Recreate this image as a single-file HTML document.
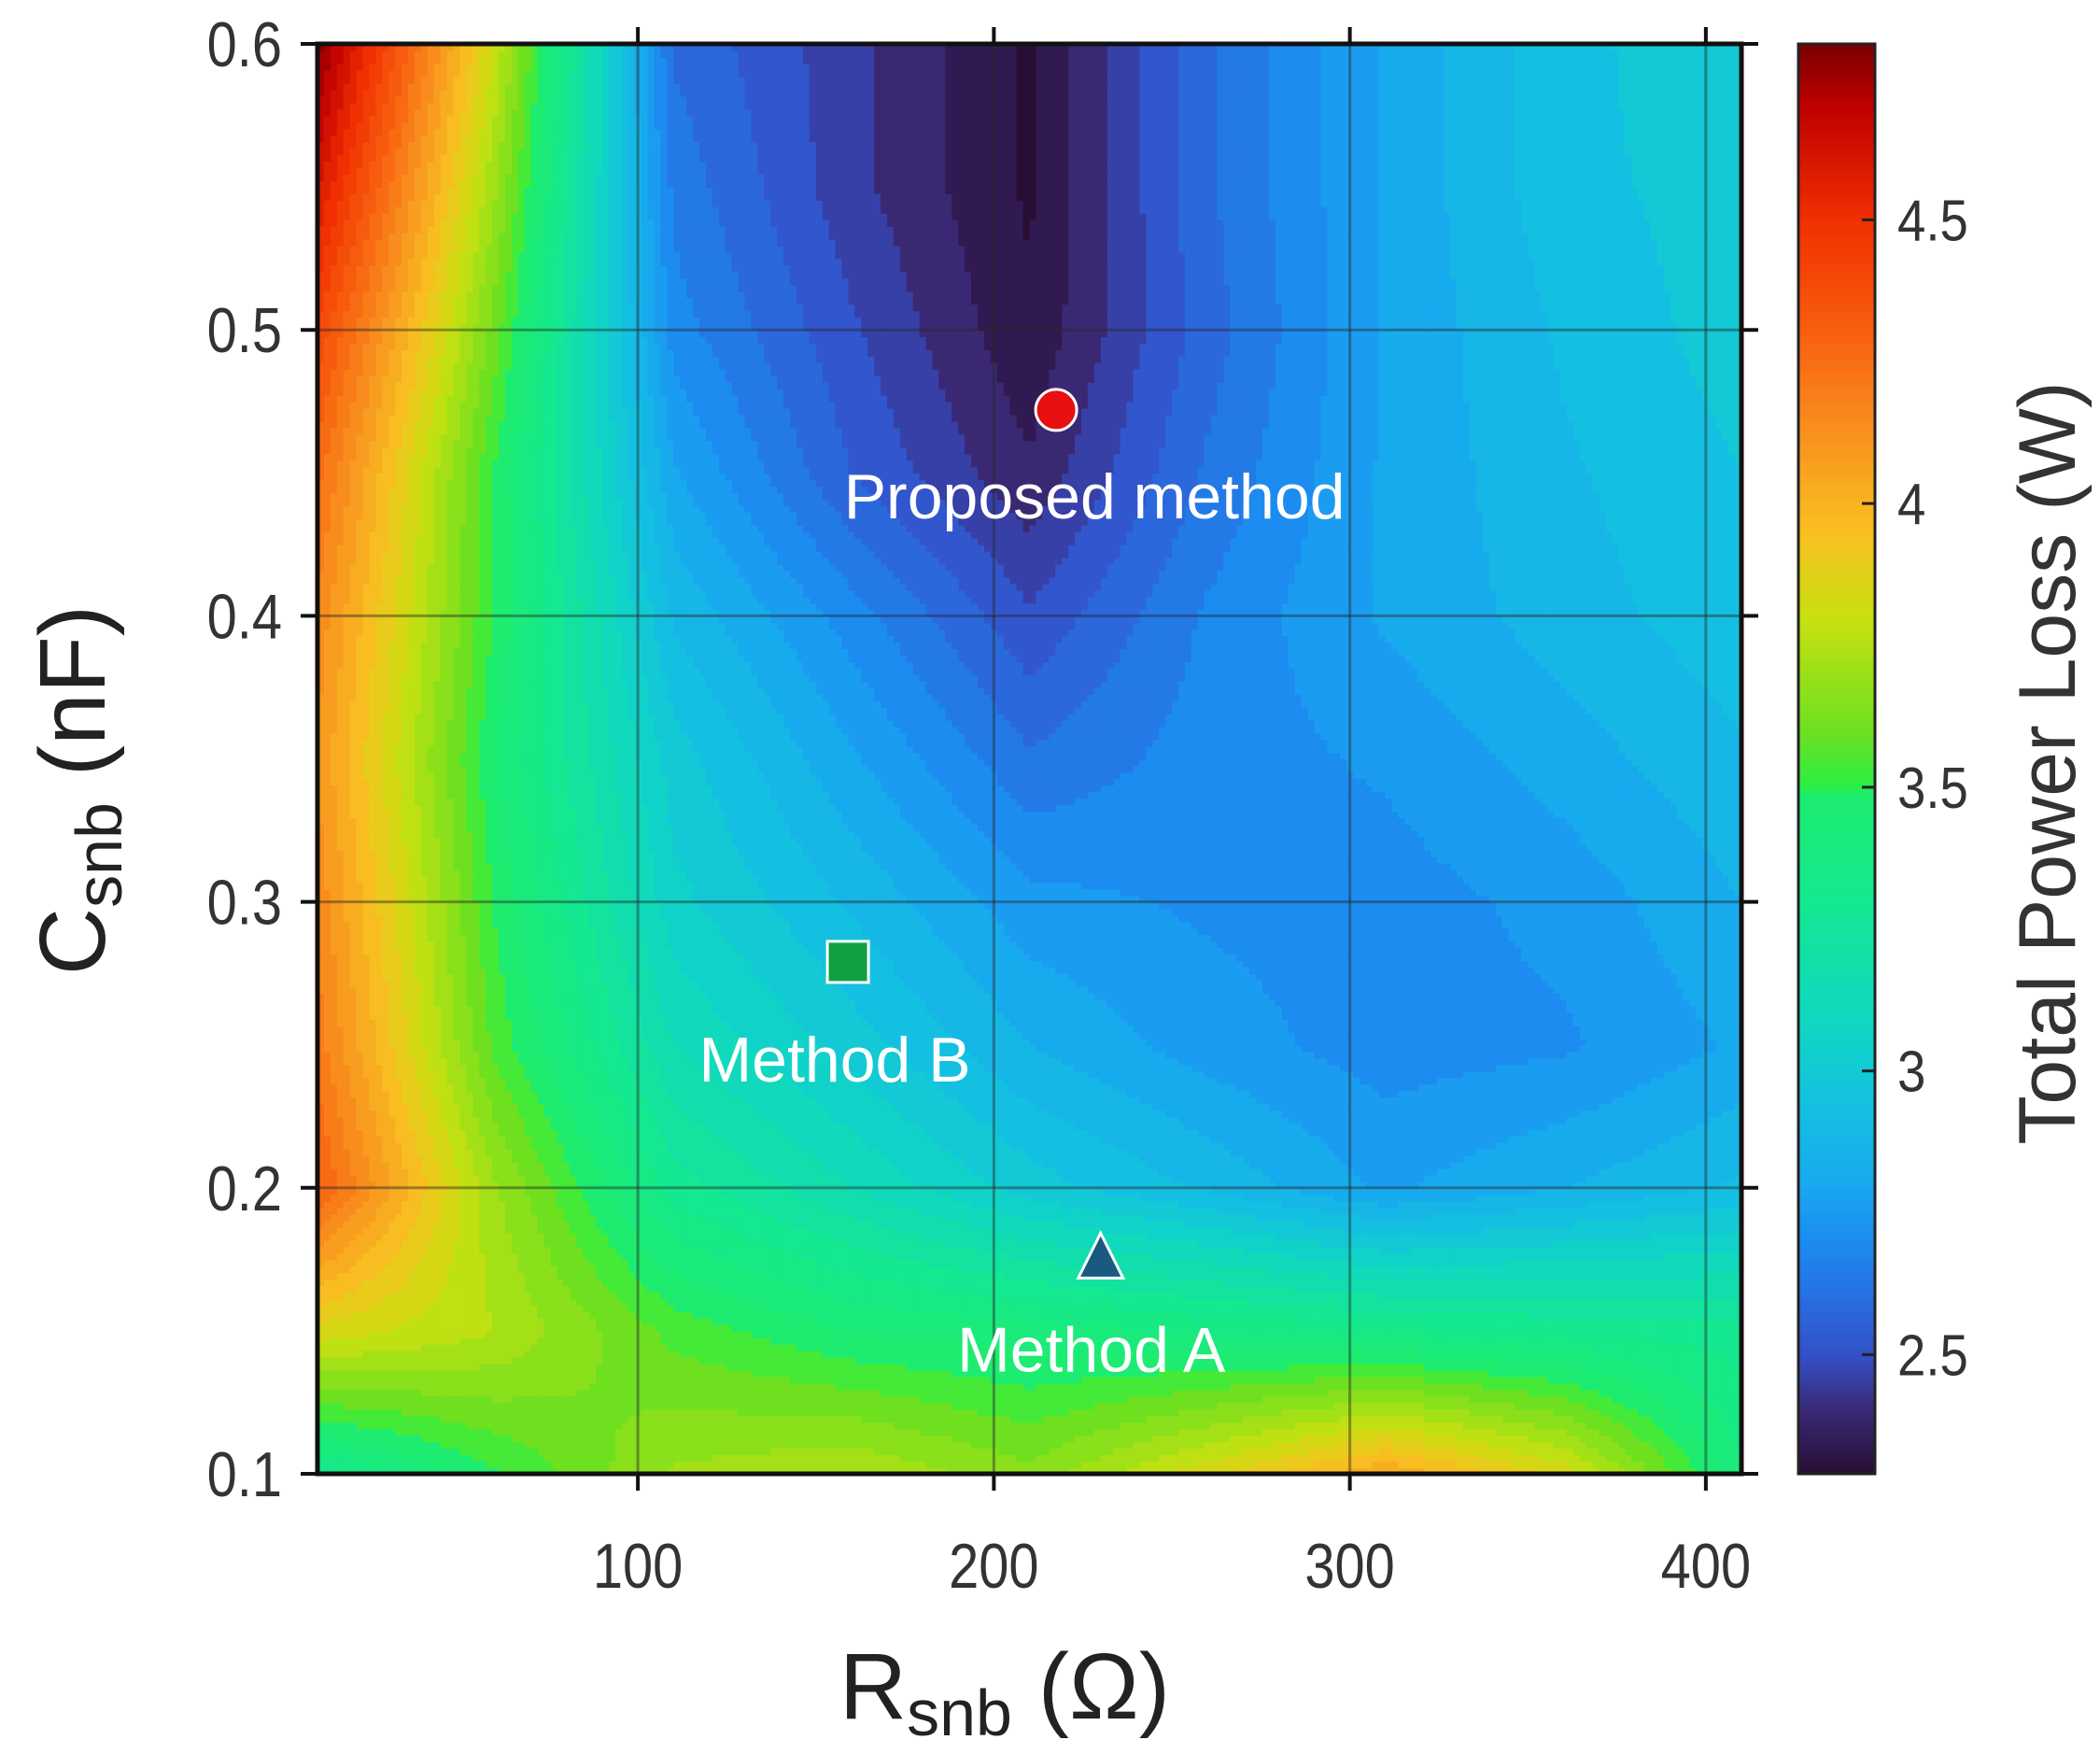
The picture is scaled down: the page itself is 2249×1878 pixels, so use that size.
<!DOCTYPE html>
<html><head><meta charset="utf-8"><style>
html,body{margin:0;padding:0;background:#fff;}
svg{display:block;font-family:"Liberation Sans",sans-serif;}
</style></head><body>
<svg id="chart" width="2249" height="1878" viewBox="0 0 2249 1878">
<g id="cells"></g>
<g id="grid"></g>
<g id="cbar"></g>
<g id="axes"></g>
<g id="marks"></g>
</svg>
<script>
const rValues = [10, 60, 110, 160, 210, 260, 310, 360, 410];
const cValues = [0.1, 0.15, 0.2, 0.25, 0.3, 0.35, 0.4, 0.45, 0.5, 0.55, 0.6];
const lossRows = [
 [3.3, 3.5, 3.7, 3.75, 3.65, 3.85, 4.05, 3.85, 3.4],
 [3.85, 3.75, 3.55, 3.45, 3.42, 3.38, 3.35, 3.32, 3.3],
 [4.3, 3.7, 3.3, 3.15, 3.0, 2.9, 2.78, 2.85, 2.92],
 [4.2, 3.55, 3.15, 3.0, 2.85, 2.76, 2.7, 2.72, 2.8],
 [4.15, 3.5, 3.05, 2.9, 2.75, 2.72, 2.7, 2.75, 2.85],
 [4.1, 3.45, 3.0, 2.8, 2.62, 2.7, 2.74, 2.82, 2.9],
 [4.15, 3.5, 2.9, 2.7, 2.5, 2.68, 2.8, 2.88, 2.95],
 [4.25, 3.5, 2.8, 2.55, 2.38, 2.62, 2.8, 2.9, 2.97],
 [4.4, 3.6, 2.7, 2.5, 2.32, 2.58, 2.8, 2.92, 3.0],
 [4.6, 3.7, 2.65, 2.45, 2.3, 2.6, 2.8, 2.95, 3.0],
 [4.8, 3.8, 2.6, 2.45, 2.3, 2.6, 2.8, 2.95, 3.02]
];
const xTicks = [100, 200, 300, 400];
const yTicks = [0.1, 0.2, 0.3, 0.4, 0.5, 0.6];
const yTickLabels = ["0.1","0.2","0.3","0.4","0.5","0.6"];
const cbTicks = [2.5, 3, 3.5, 4, 4.5];
const cbTickLabels = ["2.5","3","3.5","4","4.5"];
const markerNames = ["proposed-method","method-b","method-a"];
const markerLabels = ["Proposed method","Method B","Method A"];
const markerR = [217.5, 159, 230];
const markerC = [0.472, 0.279, 0.175];

const PL=340, PR=1865, PT=47, PB=1578;
const RMIN=10, RMAX=410, CMIN=0.1, CMAX=0.6, VMIN=2.29, VMAX=4.81;
const CBL=1926, CBR=2008;
const xs = r => PL + (r-RMIN)/(RMAX-RMIN)*(PR-PL);
const ys = c => PB - (c-CMIN)/(CMAX-CMIN)*(PB-PT);
const vs = v => PB - (v-VMIN)/(VMAX-VMIN)*(PB-PT);
const NS="http://www.w3.org/2000/svg";
function mk(tag, attrs, parent){const e=document.createElementNS(NS,tag);for(const k in attrs)e.setAttribute(k,attrs[k]);parent.appendChild(e);return e;}

const stops=[[2.29,[40,14,52]],[2.4,[58,40,115]],[2.5,[52,80,200]],[2.6,[40,110,225]],[2.7,[28,140,240]],[2.8,[24,168,240]],[2.95,[20,194,224]],[3.1,[16,216,192]],[3.3,[20,232,144]],[3.49,[30,236,110]],[3.5,[40,240,70]],[3.6,[110,224,32]],[3.8,[200,224,16]],[3.95,[248,192,32]],[4.1,[248,152,32]],[4.3,[248,96,16]],[4.5,[240,48,0]],[4.7,[192,0,0]],[4.81,[122,0,0]]];
function cmap(v){if(v<=stops[0][0])return stops[0][1];for(let i=1;i<stops.length;i++){if(v<=stops[i][0]){const a=stops[i-1],b=stops[i],t=(v-a[0])/(b[0]-a[0]);return a[1].map((x,k)=>Math.round(x+(b[1][k]-x)*t));}}return stops[stops.length-1][1];}
const rgb=c=>`rgb(${c[0]},${c[1]},${c[2]})`;

function interp(r,c){
  let i=0;while(i<rValues.length-2&&r>rValues[i+1])i++;
  let j=0;while(j<cValues.length-2&&c>cValues[j+1])j++;
  const tx=(r-rValues[i])/(rValues[i+1]-rValues[i]), ty=(c-cValues[j])/(cValues[j+1]-cValues[j]);
  const a=lossRows[j][i],b=lossRows[j][i+1],d=lossRows[j+1][i],e=lossRows[j+1][i+1];
  return a*(1-tx)*(1-ty)+b*tx*(1-ty)+d*(1-tx)*ty+e*tx*ty;
}
const cells=document.getElementById('cells');
const NX=220, NY=220;
for(let iy=0;iy<NY;iy++){for(let ix=0;ix<NX;ix++){
  const r=RMIN+(ix+0.5)/NX*(RMAX-RMIN), c=CMIN+(iy+0.5)/NY*(CMAX-CMIN);
  let v=interp(r,c); v=Math.round(v/0.06)*0.06;
  const x0=xs(RMIN+ix/NX*(RMAX-RMIN)), x1=xs(RMIN+(ix+1)/NX*(RMAX-RMIN));
  const y1=ys(CMIN+iy/NY*(CMAX-CMIN)), y0=ys(CMIN+(iy+1)/NY*(CMAX-CMIN));
  const el=mk('rect',{x:x0.toFixed(1),y:y0.toFixed(1),width:(x1-x0+0.8).toFixed(1),height:(y1-y0+0.8).toFixed(1),fill:rgb(cmap(v))},cells);
  
  
}}
const grid=document.getElementById('grid');
xTicks.forEach(t=>{const l=mk('line',{x1:xs(t),x2:xs(t),y1:PT,y2:PB,stroke:'rgba(40,40,40,0.45)','stroke-width':3},grid);
 });
yTicks.forEach(t=>{const l=mk('line',{x1:PL,x2:PR,y1:ys(t),y2:ys(t),stroke:'rgba(40,40,40,0.45)','stroke-width':3},grid);
 });

const cbar=document.getElementById('cbar');
for(let k=0;k<300;k++){const v0=VMIN+k/300*(VMAX-VMIN), v1=VMIN+(k+1)/300*(VMAX-VMIN);
  const el=mk('rect',{x:CBL,y:vs(v1).toFixed(1),width:CBR-CBL,height:(vs(v0)-vs(v1)+0.8).toFixed(1),fill:rgb(cmap((v0+v1)/2))},cbar);
  }
mk('rect',{x:CBL,y:PT,width:CBR-CBL,height:PB-PT,fill:'none',stroke:'#222','stroke-width':3},cbar);
cbTicks.forEach((t,i)=>{
  const l=mk('line',{x1:CBR-14,x2:CBR,y1:vs(t),y2:vs(t),stroke:'#222','stroke-width':3},cbar);
  
  const tx=mk('text',{x:2032/0.88,y:vs(t)+22,'font-size':62,fill:'#333',transform:'scale(0.88,1)'},cbar);
  tx.textContent=cbTickLabels[i];
  
});
const cbt=mk('text',{x:0,y:0,'font-size':86,fill:'#333','text-anchor':'middle',transform:'translate(2222,817) rotate(-90)'},cbar);
cbt.textContent='Total Power Loss (W)';


const axes=document.getElementById('axes');
mk('rect',{x:PL,y:PT,width:PR-PL,height:PB-PT,fill:'none',stroke:'#111','stroke-width':5},axes);
xTicks.forEach(t=>{
  [[PT-18,PT],[PB,PB+18]].forEach(p=>{const l=mk('line',{x1:xs(t),x2:xs(t),y1:p[0],y2:p[1],stroke:'#111','stroke-width':4},axes);
   });
  const tx=mk('text',{x:xs(t)/0.85,y:1700,'font-size':68,fill:'#333','text-anchor':'middle',transform:'scale(0.85,1)'},axes);
  tx.textContent=String(t);
});
yTicks.forEach((t,i)=>{
  [[PL-18,PL],[PR,PR+18]].forEach(p=>{const l=mk('line',{x1:p[0],x2:p[1],y1:ys(t),y2:ys(t),stroke:'#111','stroke-width':4},axes);
   });
  const tx=mk('text',{x:302/0.85,y:ys(t)+24,'font-size':68,fill:'#333','text-anchor':'end',transform:'scale(0.85,1)'},axes);
  tx.textContent=yTickLabels[i];
});
</script>
<svg style="position:absolute;left:0;top:0" width="2249" height="1878">
<text x="1076" y="1840" font-size="100" fill="#222" text-anchor="middle" font-family="Liberation Sans,sans-serif">R<tspan font-size="70" dy="18">snb</tspan><tspan dy="-18"> (Ω)</tspan></text>
<text transform="translate(112,846) rotate(-90)" font-size="100" fill="#222" text-anchor="middle" font-family="Liberation Sans,sans-serif">C<tspan font-size="70" dy="18">snb</tspan><tspan dy="-18"> (nF)</tspan></text>
</svg>
<script>
const marks=document.getElementById('marks');
markerNames.forEach((n,i)=>{
  const x=xs(markerR[i]), y=ys(markerC[i]);
  let el;
  if(i===0) el=mk('circle',{cx:x,cy:y,r:22,fill:'#e81010',stroke:'#fff','stroke-width':3},marks);
  else if(i===1) el=mk('rect',{x:x-22,y:y-22,width:44,height:44,fill:'#10a040',stroke:'#fff','stroke-width':3},marks);
  else el=mk('polygon',{points:`${x},${y-28} ${x-24},${y+20} ${x+24},${y+20}`,fill:'#1a5a80',stroke:'#fff','stroke-width':3},marks);
  
  
  const ly=[94,106,98][i];
  const t=mk('text',{x:x+[41,-14,-10][i],y:y+ly+22,'font-size':68,fill:'#fff','text-anchor':'middle'},marks);
  t.textContent=markerLabels[i];
  
  
});
</script>
</body></html>
